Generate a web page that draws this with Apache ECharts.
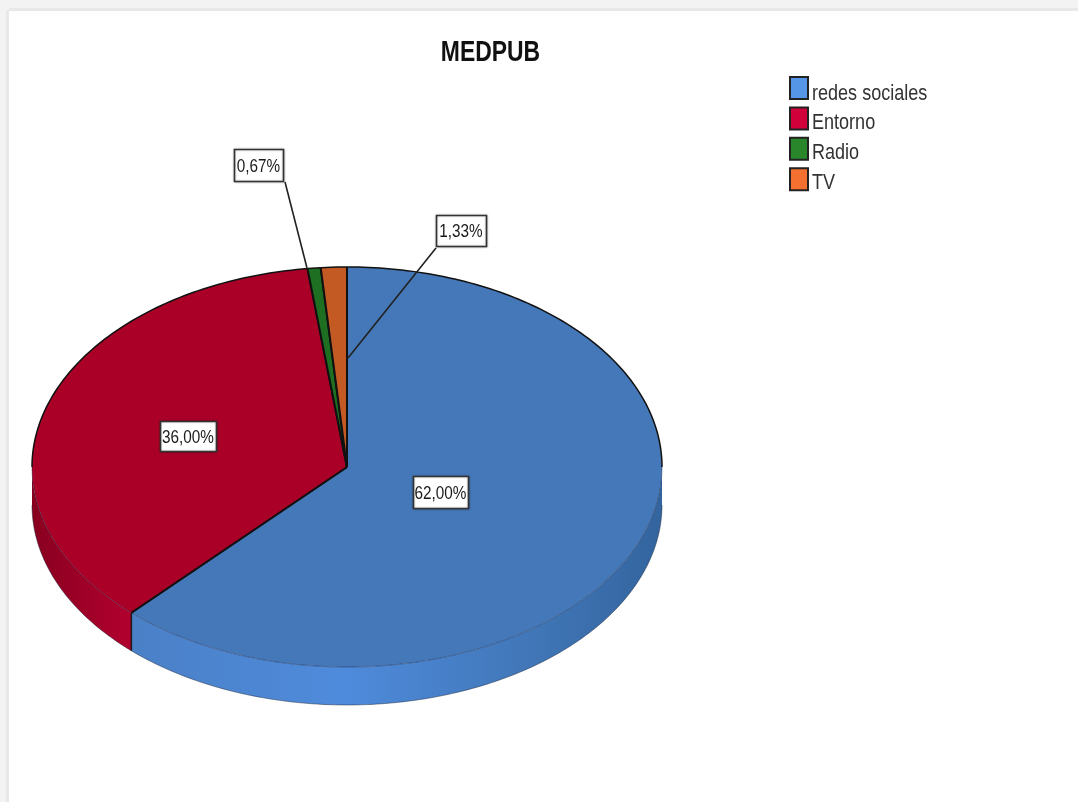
<!DOCTYPE html>
<html>
<head>
<meta charset="utf-8">
<style>html,body{margin:0;padding:0;background:#fff}#c{width:1078px;height:802px}</style>
<script src="https://cdn.jsdelivr.net/npm/echarts@6/dist/echarts.min.js"></script>
</head>
<body>
<div id="c"></div>
<script>
const categories = ['redes sociales', 'Entorno', 'Radio', 'TV'];
const percentages = [62.00, 36.00, 0.67, 1.33];
const titleText = 'MEDPUB';

const FONT = '"Liberation Sans",Arial,sans-serif';
const topColors = ['#4578b8', '#aa0028', '#1f6f22', '#c35a24'];
const legendColors = ['#5596e6', '#d2003a', '#2a862a', '#f47030'];
const CX = 347, CY = 467, RX = 315, RY = 200, DEPTH = 38;
// label boxes: [x0, y0, x1, y1], optional leader line [x0, y0, x1, y1]
const labelBoxes = [
  { box: [413, 476, 468, 508] },
  { box: [160, 421, 216, 451] },
  { box: [234, 149, 283, 181], leader: [285, 182, 307, 268] },
  { box: [436, 215, 486, 246], leader: [436, 248, 348, 358] }
];
const legendTextY = [94, 123, 153, 183];
const wallFill = [
  new echarts.graphic.LinearGradient(132, 0, 662, 0, [
    { offset: 0, color: '#4a80c6' }, { offset: 0.4, color: '#4f8bdc' },
    { offset: 0.75, color: '#4177b8' }, { offset: 1, color: '#33649e' }], true),
  new echarts.graphic.LinearGradient(32, 0, 132, 0, [
    { offset: 0, color: '#88001f' }, { offset: 1, color: '#b2002e' }], true)
];

function pt(deg, dy) {
  const a = deg * Math.PI / 180;
  return [CX + RX * Math.sin(a), CY - RY * Math.cos(a) + (dy || 0)];
}
function arc(a0, a1, dy) {
  const out = [], n = Math.max(2, Math.ceil(Math.abs(a1 - a0)));
  for (let k = 0; k <= n; k++) out.push(pt(a0 + (a1 - a0) * k / n, dy));
  return out;
}
const total = percentages.reduce((s, v) => s + v, 0);
const startShare = percentages.map((_, i) => percentages.slice(0, i).reduce((s, v) => s + v, 0));

function renderSlice(i) {
  return function (params, api) {
    const a0 = startShare[i] / total * 360;
    const a1 = a0 + api.value(0) / total * 360;
    const kids = [];
    // side wall (front half only)
    const w0 = Math.max(a0, 90), w1 = Math.min(a1, 270);
    if (w1 > w0) {
      const outer = arc(w0, w1, DEPTH);
      const inner = arc(w1, w0, 0);
      kids.push({ type: 'polygon', shape: { points: inner.concat(outer) },
        style: { fill: wallFill[i] || topColors[i] } });
      kids.push({ type: 'polyline', shape: { points: outer },
        style: { stroke: 'rgba(20,30,50,0.45)', lineWidth: 1, fill: null } });
      if (a0 > 90 && a0 < 270) {
        const s = pt(a0);
        kids.push({ type: 'line', shape: { x1: s[0], y1: s[1], x2: s[0], y2: s[1] + DEPTH },
          style: { stroke: '#1a1a1a', lineWidth: 1.5 } });
      }
    }
    // top face
    const rim = arc(a0, a1, 0);
    kids.push({ type: 'polygon', shape: { points: [[CX, CY]].concat(rim) },
      style: { fill: topColors[i] } });
    // rim: black on the back half, faint on the front half
    if (a0 < 90) kids.push({ type: 'polyline', shape: { points: arc(a0, Math.min(a1, 90), 0) },
      style: { stroke: '#111', lineWidth: 1.5, fill: null } });
    if (a1 > 270) kids.push({ type: 'polyline', shape: { points: arc(Math.max(a0, 270), a1, 0) },
      style: { stroke: '#111', lineWidth: 1.5, fill: null } });
    if (w1 > w0) kids.push({ type: 'polyline', shape: { points: arc(w0, w1, 0) },
      style: { stroke: 'rgba(20,30,60,0.4)', lineWidth: 1, fill: null } });
    // radial edges
    [a0, a1].forEach(a => {
      const p = pt(a);
      kids.push({ type: 'line', shape: { x1: CX, y1: CY, x2: p[0], y2: p[1] },
        style: { stroke: '#111', lineWidth: 2 } });
    });
    // leader and label
    const L = labelBoxes[i], b = L.box;
    if (L.leader) kids.push({ type: 'line',
      shape: { x1: L.leader[0], y1: L.leader[1], x2: L.leader[2], y2: L.leader[3] },
      style: { stroke: '#222', lineWidth: 1.6 } });
    kids.push({ type: 'rect',
      shape: { x: b[0] + 0.5, y: b[1] + 0.5, width: b[2] - b[0], height: b[3] - b[1] },
      style: { fill: '#fff', stroke: '#333', lineWidth: 1.6,
        shadowColor: 'rgba(0,0,0,0.3)', shadowBlur: 2 } });
    kids.push({ type: 'text', x: (b[0] + b[2]) / 2, y: (b[1] + b[3]) / 2 + 2, scaleX: 0.85,
      style: { text: api.value(0).toFixed(2).replace('.', ',') + '%', font: '18px ' + FONT,
        fill: '#1a1a1a', align: 'center', verticalAlign: 'middle' } });
    return { type: 'group', children: kids };
  };
}

const chart = echarts.init(document.getElementById('c'), null, { renderer: 'canvas' });
chart.setOption({
  animation: false,
  backgroundColor: '#fff',
  legend: {
    orient: 'vertical', left: 784, top: 71, itemWidth: 18, itemHeight: 22, itemGap: 6.4,
    icon: 'rect', selectedMode: false,
    formatter: () => '',
    data: categories.map((name, i) => ({
      name, itemStyle: { color: legendColors[i], borderColor: '#222', borderWidth: 2 }
    }))
  },
  graphic: [
    { type: 'rect', shape: { x: 0, y: 0, width: 1078, height: 10 }, style: { fill: '#f3f3f3' }, silent: true },
    { type: 'rect', shape: { x: 9, y: 8, width: 1069, height: 3 }, style: { fill: '#e8e8e8' }, silent: true },
    { type: 'rect', shape: { x: 0, y: 0, width: 8, height: 802 }, style: { fill: '#f3f3f3' }, silent: true },
    { type: 'rect', shape: { x: 6, y: 10, width: 3, height: 792 }, style: { fill: '#e8e8e8' }, silent: true },
    { type: 'text', x: 490.5, y: 53, scaleX: 0.79, silent: true,
      style: { text: titleText, font: 'bold 29px ' + FONT, fill: '#111', align: 'center', verticalAlign: 'middle' } }
  ].concat(categories.map((name, i) => ({
    type: 'text', x: 812, y: legendTextY[i], scaleX: 0.82, silent: true,
    style: { text: name, font: '22px ' + FONT, fill: '#333', align: 'left', verticalAlign: 'middle' }
  }))),
  series: categories.map((name, i) => ({
    type: 'custom', name, coordinateSystem: 'none',
    itemStyle: { color: legendColors[i] },
    data: [{ name, value: [percentages[i]] }],
    renderItem: renderSlice(i)
  }))
});
</script>
</body>
</html>
